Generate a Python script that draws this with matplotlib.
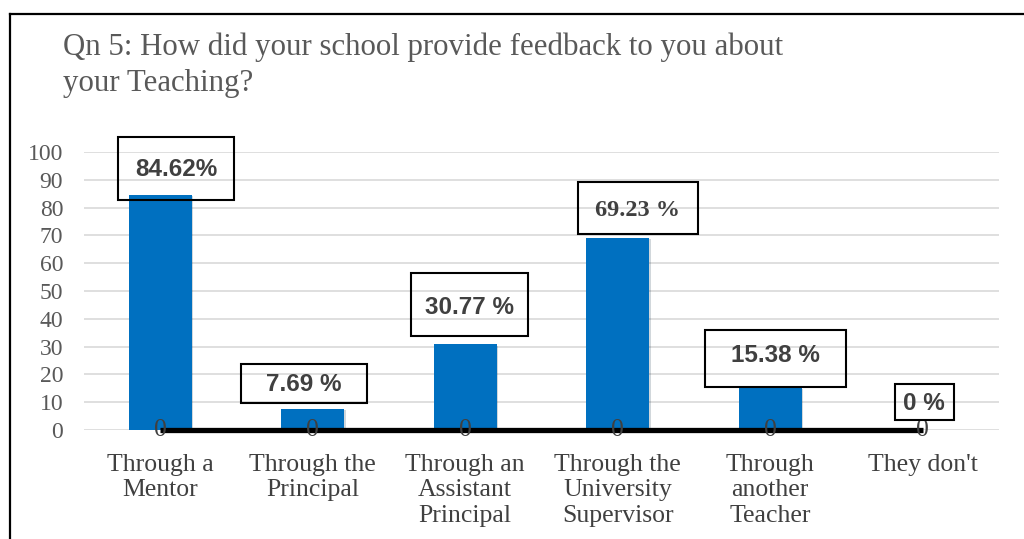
import matplotlib
matplotlib.use("Agg")
import matplotlib.pyplot as plt
import matplotlib.transforms as mtransforms
from matplotlib.patches import Rectangle
from matplotlib.lines import Line2D
import matplotlib.patheffects as pe
import numpy as np

categories = ["Through a\nMentor", "Through the\nPrincipal", "Through an\nAssistant\nPrincipal",
              "Through the\nUniversity\nSupervisor", "Through\nanother\nTeacher", "They don't"]
percent_values = [84.62, 7.69, 30.77, 69.23, 15.38, 0]
percent_labels = ["84.62%", "7.69 %", "30.77 %", "69.23 %", "15.38 %", "0 %"]
zero_series = [0, 0, 0, 0, 0, 0]
zero_labels = ["0", "0", "0", "0", "0", "0"]
y_ticks = [0, 10, 20, 30, 40, 50, 60, 70, 80, 90, 100]
title = "Qn 5: How did your school provide feedback to you about\nyour Teaching?"

# label box styles (pixels relative to bar top): dx, dy, w, h
box_dx = [16, -9, 4.5, 20, 5.5, 1.5]
box_dy = [26.5, 25, 40, 29.5, 28.7, 28]
box_w = [116, 126, 117, 120, 141, 59]
box_h = [63, 39, 63, 52, 57, 36]
text_dy = [25, 24, 37, 27.5, 32, 27]
label_serif = [False, False, False, True, False, False]

W, H = 1024, 539
fig = plt.figure(figsize=(W / 100, H / 100), dpi=100)
fig.patch.set_facecolor("white")

ax = fig.add_axes([84 / W, (H - 430) / H, 915 / W, 278 / H])
x = np.arange(len(categories))

ax.set_xlim(-0.5, len(categories) - 0.5)
ax.set_ylim(0, 100)
ax.set_yticks(y_ticks)
ax.set_yticklabels([str(t) for t in y_ticks], fontfamily="Liberation Serif",
                   fontsize=17, color="#595959")
ax.set_xticks(x)
ax.set_xticklabels(categories, fontfamily="Liberation Serif", fontsize=18.5,
                   color="#404040", linespacing=1.22)
ax.tick_params(axis="y", length=0, pad=15)
ax.tick_params(axis="x", length=0, pad=17)
for s in ax.spines.values():
    s.set_visible(False)
ax.grid(axis="y", color="#d9d9d9", lw=1.2)
ax.set_axisbelow(True)

bars = ax.bar(x, percent_values, width=0.41, color="#0070C0", zorder=2,
              path_effects=[pe.SimplePatchShadow(offset=(1.2, -1.2), alpha=0.18), pe.Normal()])

ax.plot(x, zero_series, color="black", lw=3.8, solid_capstyle="butt", zorder=3, clip_on=False)
for xi, zi, zl in zip(x, zero_series, zero_labels):
    ax.annotate(zl, xy=(xi, zi), ha="center", va="center", fontfamily="Liberation Serif",
                fontsize=18.5, color="#404040", zorder=4, annotation_clip=False)

for i, (v, lab) in enumerate(zip(percent_values, percent_labels)):
    tr = mtransforms.IdentityTransform() + mtransforms.ScaledTranslation(x[i], v, ax.transData)
    rect = Rectangle((box_dx[i] - box_w[i] / 2, box_dy[i] - box_h[i] / 2), box_w[i], box_h[i],
                     transform=tr, facecolor="none", edgecolor="black", lw=1.5,
                     clip_on=False, zorder=5)
    ax.add_artist(rect)
    ax.annotate(lab, xy=(x[i], v), xytext=(box_dx[i], text_dy[i]), textcoords="offset pixels",
                ha="center", va="center", fontsize=17.5, fontweight="bold", color="#404040",
                fontfamily="Liberation Serif" if label_serif[i] else "Liberation Sans",
                zorder=6, annotation_clip=False)

fig.text(63 / W, 1 - 33 / H, title, ha="left", va="top", fontfamily="Liberation Serif",
         fontsize=22.2, color="#595959", linespacing=1.3)

# chart border
fig.add_artist(Line2D([9.5 / W, 9.5 / W], [-0.01, 1 - 14 / H], transform=fig.transFigure,
                      color="black", lw=1.6))
fig.add_artist(Line2D([9.5 / W, 1.01], [1 - 14 / H, 1 - 14 / H], transform=fig.transFigure,
                      color="black", lw=1.6))

fig.savefig("out.png", dpi=100)
